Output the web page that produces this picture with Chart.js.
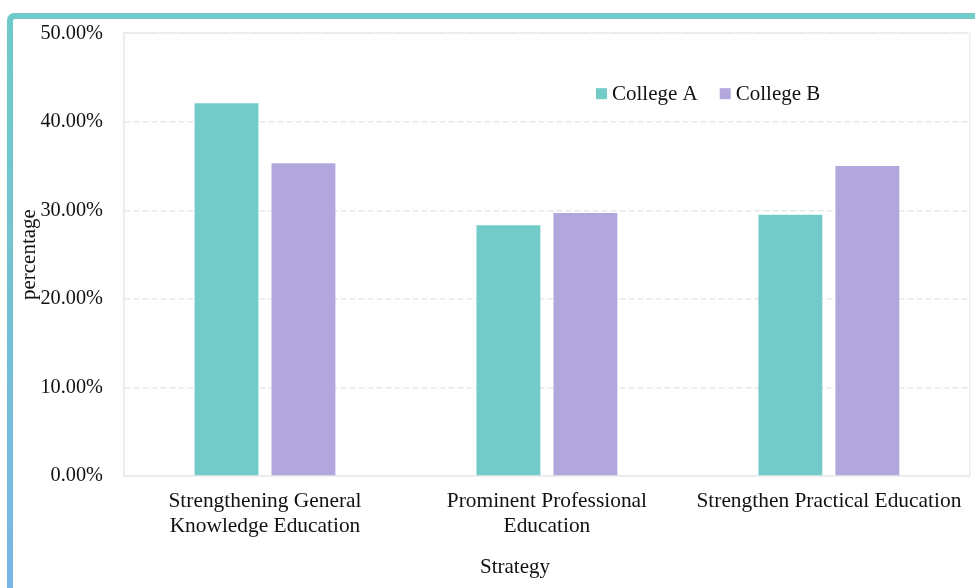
<!DOCTYPE html>
<html>
<head>
<meta charset="utf-8">
<title>Strategy percentage</title>
<script src="https://cdn.jsdelivr.net/npm/chart.js@4.4.0/dist/chart.umd.min.js"></script>
<style>
  html, body { margin: 0; padding: 0; background: #fff; overflow: hidden; }
  #wrap { position: relative; width: 975px; height: 588px; overflow: hidden; }
  .frame {
    position: absolute; left: 7px; top: 13px; width: 1000px; height: 620px;
    background: linear-gradient(180deg, #6fcac8 0%, #72c4d2 40%, #79b5ea 100%);
    border-top-left-radius: 7px;
  }
  .frame .inner {
    position: absolute; left: 6px; top: 6px; right: 0; bottom: 0;
    background: #fff; border-top-left-radius: 2px;
  }
  #chart { position: absolute; left: 0; top: 0; }
</style>
</head>
<body>
<div id="wrap">
  <div class="frame"><div class="inner"></div></div>
  <canvas id="chart" width="975" height="588"></canvas>
</div>
<script>
// data
const categories = [
  ["Strengthening General", "Knowledge Education"],
  ["Prominent Professional", "Education"],
  "Strengthen Practical Education"
];
const seriesNames = ["College A", "College B"];
const collegeA = [42.1, 28.3, 29.5];
const collegeB = [35.3, 29.7, 35.0];
const yTicks = [0, 10, 20, 30, 40, 50];
const xTitle = "Strategy";

const colors = ["#72cbc9", "#b2a7dc"];
const font = "'Liberation Serif', 'Times New Roman', serif";

// legend drawn inside the plot, top right
const innerLegend = {
  id: "innerLegend",
  afterDraw(chart) {
    const ctx = chart.ctx;
    const area = chart.chartArea;
    ctx.save();
    ctx.font = "21px " + font;
    ctx.textBaseline = "middle";
    let x = area.left + 472;
    const y = area.top + 60;
    chart.data.datasets.forEach(ds => {
      ctx.fillStyle = ds.backgroundColor;
      ctx.fillRect(x, y - 5, 11, 11);
      ctx.fillStyle = "#111";
      ctx.fillText(ds.label, x + 16, y + 1);
      x += 16 + ctx.measureText(ds.label).width + 22;
    });
    ctx.restore();
  }
};

// x axis title, sits a bit left of the plot centre in the original
const xAxisTitle = {
  id: "xAxisTitle",
  afterDraw(chart) {
    const ctx = chart.ctx;
    ctx.save();
    ctx.font = "21px " + font;
    ctx.fillStyle = "#111";
    ctx.textAlign = "center";
    ctx.textBaseline = "middle";
    ctx.fillText(xTitle, chart.chartArea.left + 391, chart.height - 21);
    ctx.restore();
  }
};

// light solid frame round the plot area
const areaBorder = {
  id: "areaBorder",
  beforeDatasetsDraw(chart) {
    const ctx = chart.ctx;
    const a = chart.chartArea;
    ctx.save();
    ctx.strokeStyle = "#ececec";
    ctx.lineWidth = 1.5;
    ctx.strokeRect(a.left, a.top, a.right - a.left, a.bottom - a.top);
    ctx.restore();
  }
};

new Chart(document.getElementById("chart"), {
  type: "bar",
  data: {
    labels: categories,
    datasets: [
      { label: seriesNames[0], data: collegeA, backgroundColor: colors[0] },
      { label: seriesNames[1], data: collegeB, backgroundColor: colors[1] }
    ]
  },
  options: {
    responsive: false,
    animation: false,
    devicePixelRatio: 1,
    categoryPercentage: 0.546,
    barPercentage: 0.83,
    layout: { padding: { top: 33, right: 4, left: 0, bottom: 0 } },
    plugins: {
      legend: { display: false },
      tooltip: { enabled: false }
    },
    scales: {
      x: {
        afterFit(scale) { scale.height = 112; },
        grid: { display: false, drawTicks: false },
        border: { display: true, color: "#ececec", width: 1.5 },
        ticks: {
          color: "#111",
          padding: 13,
          maxRotation: 0,
          autoSkip: false,
          font: { family: font, size: 21.4, lineHeight: 1.17 }
        },
        title: { display: false }
      },
      y: {
        min: 0,
        max: 50,
        afterFit(scale) { scale.width = 124; },
        afterBuildTicks(scale) { scale.ticks = yTicks.map(v => ({ value: v })); },
        grid: {
          color: "#e8e8e8",
          lineWidth: 1.5,
          drawTicks: false
        },
        border: { display: true, color: "#ececec", width: 1.5, dash: [6, 3] },
        ticks: {
          color: "#111",
          padding: 21,
          font: { family: font, size: 20.3 },
          callback: v => v.toFixed(2) + "%"
        },
        title: {
          display: true,
          text: "percentage",
          color: "#111",
          padding: { top: 17, bottom: 0 },
          font: { family: font, size: 21 }
        }
      }
    }
  },
  plugins: [areaBorder, innerLegend, xAxisTitle]
});
</script>
</body>
</html>
